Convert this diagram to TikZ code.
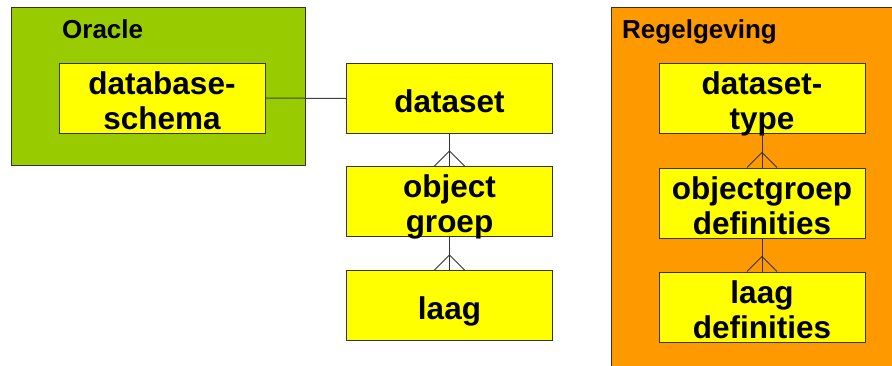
\documentclass[tikz,border=0pt]{standalone}
\usepackage{fontspec}
\setmainfont{Liberation Sans}
\usetikzlibrary{calc}
\definecolor{oraclegreen}{HTML}{99CC00}
\definecolor{regelorange}{HTML}{FF9900}
\definecolor{boxyellow}{HTML}{FFFF00}
\definecolor{edgegray}{HTML}{333333}
\newcommand\ps[1]{\rule[-3.6pt]{0pt}{34.6pt}\smash{#1}}
\tikzset{
  group/.style={draw=edgegray, line width=1pt},
  entity/.style={draw=edgegray, fill=boxyellow, line width=1pt, minimum width=206pt, minimum height=70pt, inner sep=0pt, align=center, font=\fontsize{31.5}{34.6}\selectfont\bfseries},
  grouptitle/.style={anchor=base west, inner sep=0pt, font=\fontsize{26}{30}\selectfont\bfseries},
  link/.style={draw=black!75, line width=1pt},
  foot/.style={draw=black!80, line width=0.9pt}
}
\begin{document}
\begin{tikzpicture}[x=1pt,y=-1pt]
\useasboundingbox (0,0) rectangle (892,365);
\clip (0,0) rectangle (892,365);
\fill[white] (0,0) rectangle (892,365);
% groups
\draw[group, fill=oraclegreen] (11,7) rectangle (305,165);
\draw[group, fill=regelorange] (611,7) rectangle (905,380);
\node[grouptitle] (oracle) at (62,38) {Oracle};
\node[grouptitle] (regel) at (622,38) {Regelgeving};
% entities
\node[entity] (db) at (162,98) {\ps{database-}\\\ps{schema}};
\node[entity] (ds) at (449.5,98.5) {\ps{dataset}};
\node[entity] (og) at (449.5,201.5) {\ps{object}\\\ps{groep}};
\node[entity] (laag) at (449.5,305.5) {\ps{laag}};
\node[entity] (dst) at (762,98) {\ps{dataset-}\\\ps{type}};
\node[entity] (ogd) at (762,203) {\ps{objectgroep}\\\ps{definities}};
\node[entity] (ld) at (762,307) {\ps{laag}\\\ps{definities}};
% connectors
\draw[link] (db.east) -- (ds.west);
\foreach \a/\b in {ds/og, og/laag, dst/ogd, ogd/ld}{
  \draw[foot] (\a.south) -- (\b.north);
  \draw[foot] ($(\b.north)+(-15,0)$) -- ($(\b.north)+(0,-15)$) -- ($(\b.north)+(15,0)$);
}
\end{tikzpicture}
\end{document}
